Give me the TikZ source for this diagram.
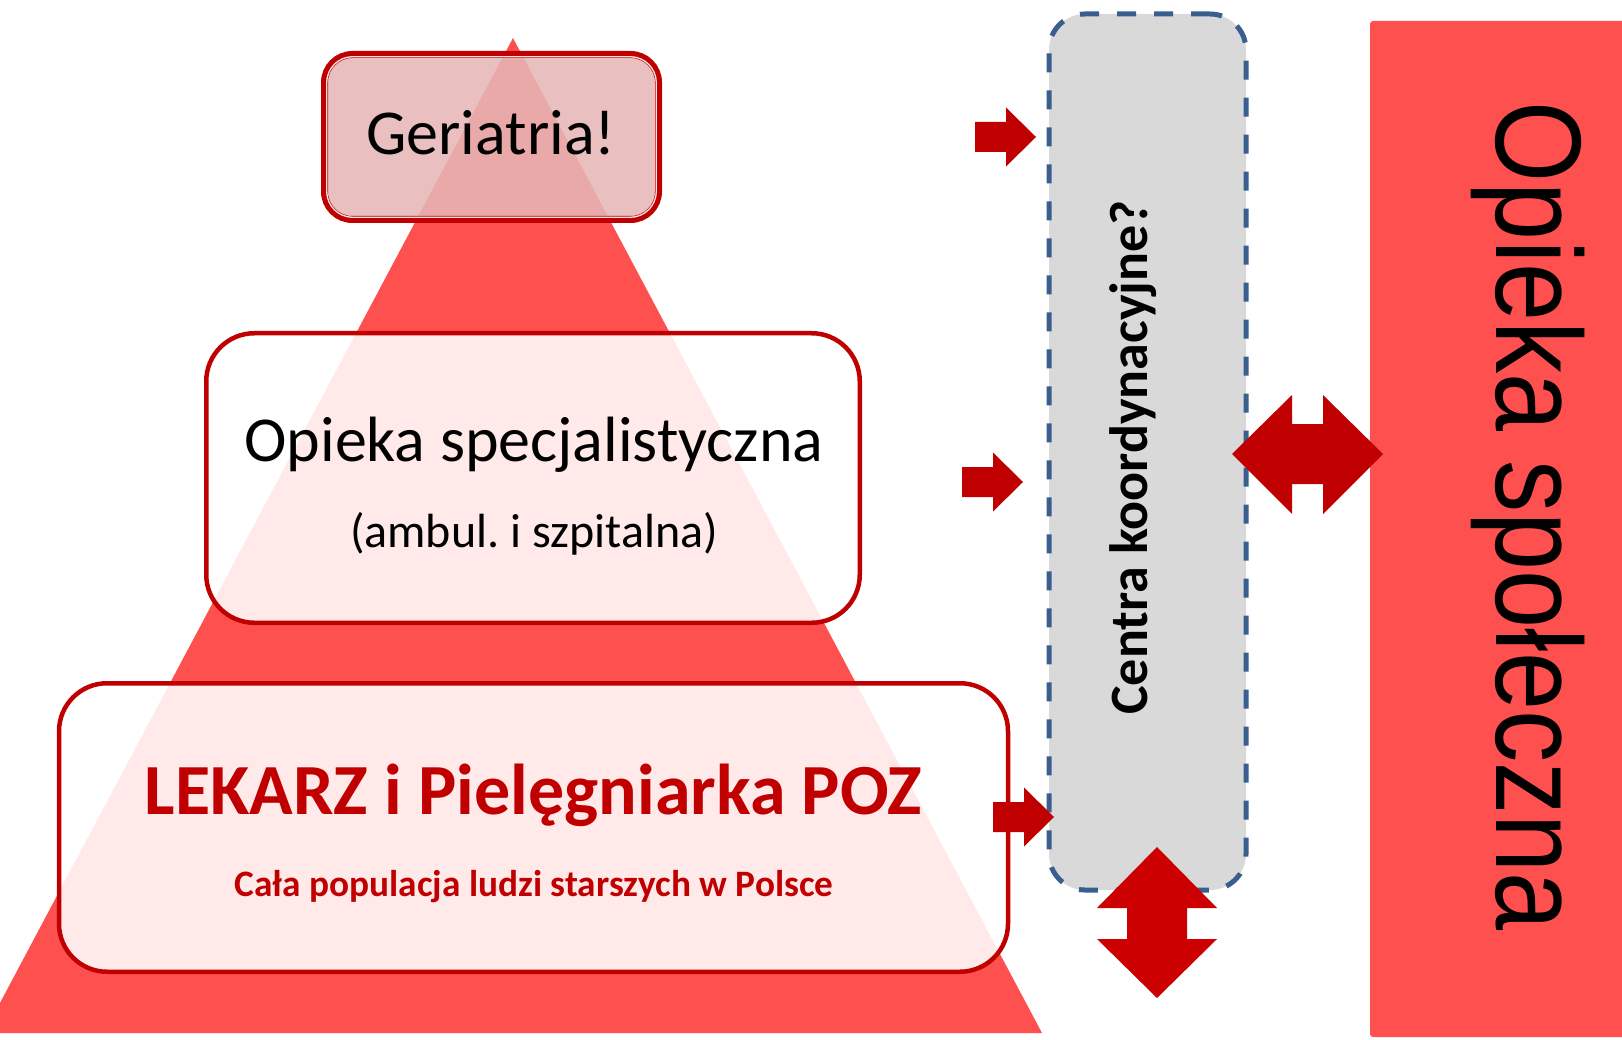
\documentclass[tikz,border=0pt]{standalone}
\usepackage{fontspec}
\setmainfont{Carlito}
\newfontfamily\arialfont{Liberation Sans}
\frenchspacing
\definecolor{pyrred}{HTML}{FF5050}
\definecolor{darkred}{HTML}{C00000}
\definecolor{arrowred}{HTML}{C00000}
\definecolor{arrowred2}{HTML}{CC0000}
\definecolor{gerifill}{RGB}{230,182,182}
\definecolor{grayfill}{HTML}{D9D9D9}
\definecolor{dashblue}{HTML}{3A5F8F}
\newcommand\blockarrowR[2]{%
  \fill[arrowred] (#1,#2-15) -- (#1+31,#2-15) -- (#1+31,#2-29.5) -- (#1+61,#2)
    -- (#1+31,#2+29.5) -- (#1+31,#2+15) -- (#1,#2+15) -- cycle;}
\tikzset{
  levelbox/.style={draw=darkred, line width=4.5pt, fill=white, fill opacity=0.88,
    rounded corners=48pt, inner sep=0pt, outer sep=0pt},
  gerbox/.style={draw=darkred, line width=7pt, fill=gerifill, fill opacity=0.88,
    rounded corners=28pt, inner sep=0pt, outer sep=0pt},
  coordbox/.style={draw=dashblue, line width=5pt, dash pattern=on 19pt off 18pt,
    fill=grayfill, rounded corners=36pt, inner sep=0pt, outer sep=0pt},
  txt/.style={inner sep=0pt, anchor=base},
}
\begin{document}
\begin{tikzpicture}[x=1pt,y=-1pt]
\useasboundingbox (0,0) rectangle (1622,1040);
% pyramid
\fill[pyrred] (513,38) -- (1042,1033) -- (-16,1033) -- cycle;
% level boxes
\node[gerbox, minimum width=334pt, minimum height=165pt] (geri) at (491.5,137) {};
\draw[gerifill!40!white, line width=1.3pt, rounded corners=26pt]
  ([shift={(2.2,2.2)}]geri.north west) rectangle ([shift={(-2.2,-2.2)}]geri.south east);
\node[levelbox, minimum width=653.5pt, minimum height=289.5pt] (spec) at (533,478) {};
\node[levelbox, minimum width=949pt, minimum height=288.5pt] (poz) at (533.5,827.5) {};
% coordination box
\node[coordbox, minimum width=197pt, minimum height=876pt] (coord) at (1147.5,452) {};
% social care bar
\node[fill=pyrred, rounded corners=3pt, inner sep=0pt, outer sep=0pt,
  minimum width=262pt, minimum height=1016pt] (social) at (1501,529) {};
% texts
\node[txt] (tgeri) at (491,155) {\fontsize{64}{76}\selectfont Geriatria!};
\node[txt] (tspec) at (534,461) {\fontsize{64}{76}\selectfont Opieka specjalistyczna};
\node[txt] (tamb) at (534,547) {\fontsize{48}{57}\selectfont (ambul. i szpitalna)};
\node[txt, text=darkred] (tpoz) at (533.5,814) {\fontsize{72}{85}\selectfont\bfseries LEKARZ i Pielęgniarka POZ};
\node[txt, text=darkred] (tpop) at (534,896) {\fontsize{37.3}{44}\selectfont\bfseries Cała populacja ludzi starszych w Polsce};
\node[txt, rotate=90] (tcoord) at (1147,457.5) {\fontsize{54}{64}\selectfont\bfseries Centra koordynacyjne?};
\node[txt, rotate=-90] (tsocial) at (1496,516) {\arialfont\fontsize{122}{144}\selectfont\scalebox{0.855}[1]{Opieka społeczna}};
% arrows
\blockarrowR{975}{137}
\blockarrowR{962}{482}
\blockarrowR{993}{817}
\fill[arrowred] (1232,454) -- (1292,395) -- (1292,424) -- (1323,424) -- (1323,395)
  -- (1383,454) -- (1323,514) -- (1323,484) -- (1292,484) -- (1292,514) -- cycle;
\fill[arrowred2] (1157,847) -- (1217,908) -- (1187,908) -- (1187,939) -- (1217,939)
  -- (1157,998) -- (1097,939) -- (1127,939) -- (1127,908) -- (1097,908) -- cycle;
\end{tikzpicture}
\end{document}
